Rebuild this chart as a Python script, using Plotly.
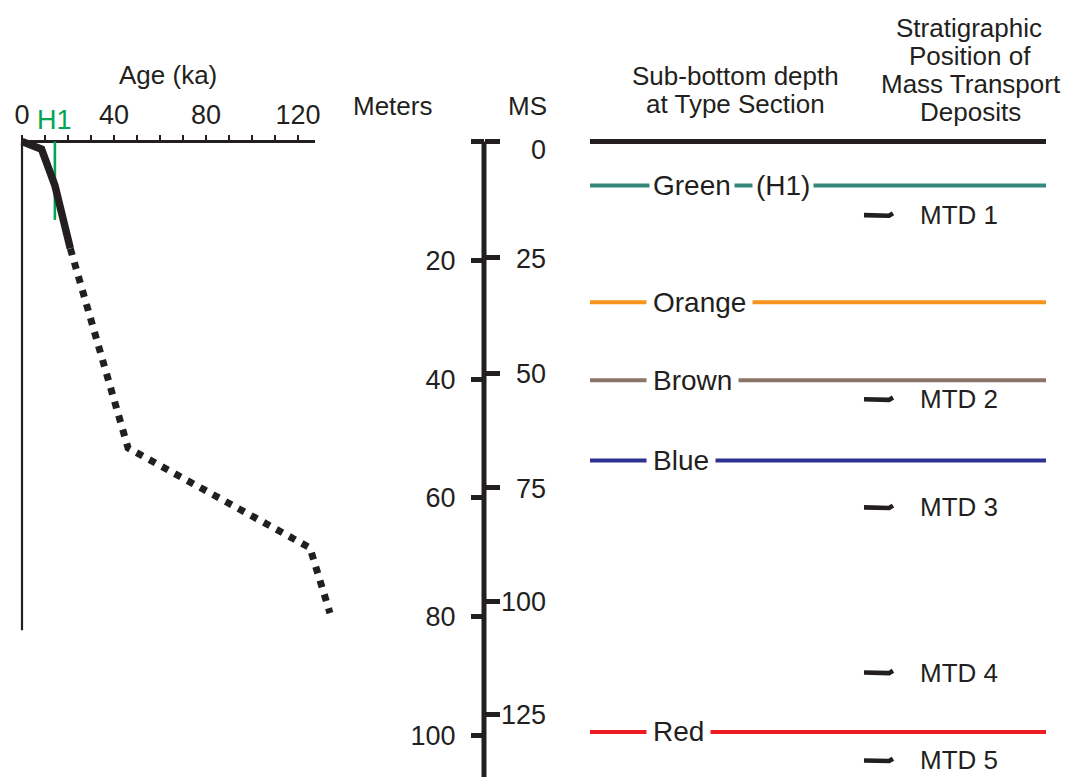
import plotly.graph_objects as go

W, H = 1071, 777
FONT = "Liberation Sans, Arial, Helvetica, sans-serif"
INK = "#231f20"

# ---- age model (age in ka vs. sub-bottom depth in m) ----
solid_age = [0, 8.5, 14.3, 21.0]
solid_depth = [0, 1.3, 7.4, 18.0]
dotted_age = [21.0, 46.1, 125.2, 133.9]
dotted_depth = [18.0, 51.6, 68.4, 79.4]
core_length_m = 82.3
h1_age = 14.3
h1_depth_extent = 13.2

age_ticks = [0, 10, 20, 30, 40, 50, 60, 70, 80, 90, 100, 110, 120]
age_ticklabels = ["0", "", "", "", "40", "", "", "", "80", "", "", "", "120"]
age_axis_end = 127.4

# ---- depth scales ----
meter_ticks = [0, 20, 40, 60, 80, 100]
meter_ticklabels = ["", "20", "40", "60", "80", "100"]
ms_labels = ["0", "25", "50", "75", "100", "125"]
ms_depth_m = [0, 19.6, 39.0, 58.3, 77.4, 96.4]

# ---- stratigraphic horizons ----
seafloor_depth = 0
horizon_names = ["Green", "Orange", "Brown", "Blue", "Red"]
horizon_depth = [7.4, 27.05, 40.2, 53.7, 99.4]
horizon_colors = ["#35877a", "#f7941d", "#8c7469", "#2e3192", "#ed1c24"]

# ---- mass transport deposits ----
mtd_names = ["MTD 1", "MTD 2", "MTD 3", "MTD 4", "MTD 5"]
mtd_depth = [12.4, 43.4, 61.6, 89.4, 104.2]

# page geometry: pixels per unit
PX_PER_M = 5.94
Y0 = 141.5            # pixel row of 0 m
PX_PER_KA = 2.3
X0 = 22               # pixel column of 0 ka
AXIS_X = 484          # pixel column of the depth scale

y_range = [(H - Y0) / PX_PER_M, -Y0 / PX_PER_M]
age_range = [-X0 / PX_PER_KA, (W - X0) / PX_PER_KA]


def px(x):
    return x / W


def py(y):
    return 1 - y / H


fig = go.Figure()

# left panel: age-depth curve
fig.add_trace(go.Scatter(x=[0, 0], y=[0, core_length_m], mode="lines",
                         line=dict(color=INK, width=2.2), xaxis="x", yaxis="y"))
fig.add_trace(go.Scatter(x=[0, age_axis_end], y=[0, 0], mode="lines",
                         line=dict(color=INK, width=3), xaxis="x", yaxis="y"))
fig.add_trace(go.Scatter(x=[h1_age, h1_age], y=[0, h1_depth_extent], mode="lines",
                         line=dict(color="#00a651", width=2.6), xaxis="x", yaxis="y"))
fig.add_trace(go.Scatter(x=solid_age, y=solid_depth, mode="lines",
                         line=dict(color=INK, width=7.5), xaxis="x", yaxis="y"))
fig.add_trace(go.Scatter(x=dotted_age, y=dotted_depth, mode="lines",
                         line=dict(color=INK, width=7, dash="7px,7.5px"),
                         xaxis="x", yaxis="y"))

# right panel: horizons
fig.add_trace(go.Scatter(x=[590, 1046], y=[seafloor_depth, seafloor_depth], mode="lines",
                         line=dict(color=INK, width=5), xaxis="x2", yaxis="y"))
for d, c in zip(horizon_depth, horizon_colors):
    fig.add_trace(go.Scatter(x=[590, 1046], y=[d, d], mode="lines",
                             line=dict(color=c, width=4), xaxis="x2", yaxis="y"))

# MTD squiggles
for d in mtd_depth:
    fig.add_trace(go.Scatter(x=[864, 874, 882, 889, 893],
                             y=[d, d + 0.08, d + 0.2, d + 0.1, d - 0.3],
                             mode="lines", line=dict(color=INK, width=4.6),
                             xaxis="x2", yaxis="y"))

# depth scale axis line
fig.add_shape(type="line", xref="paper", yref="y", x0=px(AXIS_X), x1=px(AXIS_X),
              y0=0, y1=y_range[0], line=dict(color=INK, width=5))

ann = []


def text(x, y, s, size=26, color=INK, xanchor="center", yanchor="middle", **kw):
    ann.append(dict(x=x, y=y, xref=kw.pop("xref", "paper"), yref=kw.pop("yref", "paper"),
                    text=s, showarrow=False, xanchor=xanchor, yanchor=yanchor,
                    font=dict(family=FONT, size=size, color=color), **kw))


# column headings
text(px(168), py(75), "Age (ka)", 26)
text(px(392), py(106), "Meters", 26)
text(px(527), py(106), "MS", 26)
text(px(735), py(76), "Sub-bottom depth", 26)
text(px(735), py(104), "at Type Section", 26)
text(px(969), py(28), "Stratigraphic", 26)
text(px(970), py(56), "Position of", 26)
text(px(971), py(84), "Mass Transport", 26)
text(px(970), py(112), "Deposits", 26)

# H1 label above the age axis
text(h1_age, -3.6, "H1", 27, color="#00a651", xref="x", yref="y")

# MS labels, right aligned beside the scale (top label sits below the cap)
for i, (lab, d) in enumerate(zip(ms_labels, ms_depth_m)):
    text(px(548), d, lab, 27, xanchor="right", yref="y", yshift=-8 if i == 0 else -1)

# horizon labels with white backing
for name, d in zip(horizon_names, horizon_depth):
    pad = 3 if name == "Green" else 6
    text(px(652 - pad), d, name, 28, xanchor="left", yref="y",
         bgcolor="white", borderpad=pad)
text(px(752), horizon_depth[0], "(H1)", 28, xanchor="left", yref="y",
     bgcolor="white", borderpad=3)

# MTD labels
for name, d in zip(mtd_names, mtd_depth):
    text(px(918), d, name, 26, xanchor="left", yref="y")

fig.update_layout(
    width=W, height=H,
    margin=dict(l=0, r=0, t=0, b=0),
    paper_bgcolor="white", plot_bgcolor="white",
    showlegend=False,
    font=dict(family=FONT, color=INK, size=27),
    annotations=ann,
    xaxis=dict(domain=[0, 1], range=age_range, anchor="free", position=py(Y0),
               side="top", showgrid=False, zeroline=False, showline=False,
               tickmode="array", tickvals=age_ticks, ticktext=age_ticklabels,
               ticks="outside", ticklen=7, tickwidth=2.2, tickcolor=INK,
               tickfont=dict(size=27, color=INK), ticklabelstandoff=0),
    xaxis2=dict(domain=[0, 1], range=[0, W], overlaying="x", visible=False),
    yaxis=dict(domain=[0, 1], range=y_range, anchor="free", position=px(AXIS_X),
               side="left", showgrid=False, zeroline=False, showline=False,
               tickmode="array", tickvals=meter_ticks, ticktext=meter_ticklabels,
               ticks="outside", ticklen=13, tickwidth=5, tickcolor=INK,
               tickfont=dict(size=27, color=INK), ticklabelstandoff=10),
    yaxis2=dict(domain=[0, 1], range=y_range, overlaying="y", anchor="free",
                position=px(AXIS_X), side="right", showgrid=False, zeroline=False,
                showline=False, tickmode="array", tickvals=ms_depth_m,
                ticks="outside", ticklen=15, tickwidth=5, tickcolor=INK,
                showticklabels=False),
)

# keep the overlay scale drawn
fig.add_trace(go.Scatter(x=[None], y=[None], xaxis="x2", yaxis="y2", hoverinfo="skip"))

fig.write_html("out.html")
